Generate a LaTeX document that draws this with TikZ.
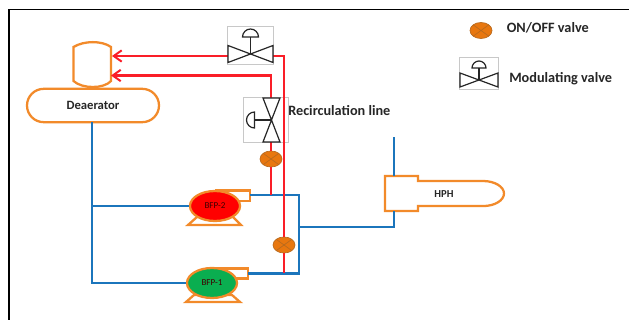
\documentclass[tikz,border=0pt]{standalone}
\usepackage{fontspec}
\setmainfont{Carlito}
\usetikzlibrary{arrows.meta,shapes.misc,shapes.geometric}
\definecolor{vesselor}{HTML}{F28A2A}
\definecolor{pipeblue}{HTML}{1B75BC}
\definecolor{piperedc}{HTML}{FA1E28}
\definecolor{valveor}{HTML}{E8770F}
\definecolor{valveline}{HTML}{B86A1E}
\definecolor{boxgray}{HTML}{C8C8C8}
\definecolor{inkc}{HTML}{262626}
\definecolor{pumpgreen}{HTML}{0AAE50}
\tikzset{
  x=0.75pt,y=-0.75pt,
  vessel/.style={draw=vesselor,line width=1.7pt,fill=white},
  bluepipe/.style={draw=pipeblue,line width=2pt,line join=miter},
  redpipe/.style={draw=piperedc,line width=1.9pt},
  redarrow/.style={redpipe,-{Straight Barb[length=6pt,width=8.5pt,line width=1.5pt]}},
  onoff/.style={ellipse,draw=valveline,fill=valveor,line width=0.5pt,inner sep=0pt,minimum width=16.5pt,minimum height=12pt,path picture={
    \draw[valveline,line width=0.5pt] (path picture bounding box.north west)--(path picture bounding box.south east)
      (path picture bounding box.south west)--(path picture bounding box.north east);}},
  vbox/.style={draw=boxgray,line width=0.4pt,fill=white,inner sep=0pt},
  pumpbody/.style={ellipse,draw=vesselor,line width=1.7pt,inner sep=0pt,minimum width=37.5pt,minimum height=22.5pt,font=\fontsize{6.8}{7}\selectfont,text=black!75!red},
  txtlabel/.style={font=\fontsize{10.7}{12}\selectfont\bfseries,text=inkc,inner sep=0pt},
  symb/.style={draw=inkc,line width=0.9pt,fill=white},
}
\newcommand{\modvalve}[5]{%
  \begin{scope}[shift={(#1,#2)},rotate=#5]
    \draw[symb] (0,0)--(-#3,-#4)--(-#3,#4)--cycle;
    \draw[symb] (0,0)--(#3,-#4)--(#3,#4)--cycle;
    \draw[symb,fill=none] (0,0)--(0,-17);
    \draw[symb] (-8,-17) arc[start angle=180,end angle=0,radius=6pt] -- cycle;
  \end{scope}}
\begin{document}
\begin{tikzpicture}
\useasboundingbox (0,0) rectangle (629,320);
\fill[white] (0,0) rectangle (629,320);
% frame
\draw[black,line width=1.1pt] (9,320)--(9,9.5)--(629,9.5);

% vessels
\draw[vessel] (73.5,47) .. controls (84,40.5) and (102,40.5) .. (111,47) -- (111,81) .. controls (104,89) and (82,89) .. (73.5,81) -- cycle;
\node[inner sep=0pt,minimum width=28pt,minimum height=33pt] (drum) at (92.5,65) {};
\node[vessel,rounded rectangle,minimum width=99pt,minimum height=25pt,inner sep=0pt,text=inkc,font=\fontsize{9.5}{10}\selectfont\bfseries] (dea) at (93,105.5) {Deaerator};
\draw[vessel,line join=miter] (385,176) -- (418,176) -- (418,181) -- (483,181) arc[start angle=90,end angle=-90,x radius=15.75pt,y radius=9.4pt] -- (418,206) -- (418,211) -- (385,211) -- cycle;
\node[inner sep=0pt,font=\fontsize{8}{9}\selectfont\bfseries,text=inkc] (hph) at (444,194) {HPH};

% pumps
\draw[vessel,line join=miter] (215,190.5) -- (250,190.5) -- (250,201) -- (236,201);
\draw[vessel,line join=miter] (188,225) -- (197,217) -- (233,217) -- (241,225) -- cycle;
\node[pumpbody,fill=red] (bfp2) at (215,206) {BFP-2};
\draw[vessel,line join=miter] (212,268.5) -- (248,268.5) -- (248,278.5) -- (233,278.5);
\draw[vessel,line join=miter] (186,302) -- (194,295) -- (232,295) -- (240,302) -- cycle;
\node[pumpbody,fill=pumpgreen] (bfp1) at (212,283) {BFP-1};

% junction coordinates
\coordinate (deaS) at (92,122);
\coordinate (j1) at (92,206);
\coordinate (j2) at (92,283);
\coordinate (o2) at (250,195);
\coordinate (o1) at (248,273.5);
\coordinate (c2) at (299,195);
\coordinate (c1) at (299,273.5);
\coordinate (cm) at (299,227);
\coordinate (hc) at (394,227);
\coordinate (hb) at (394,211);
\coordinate (ht) at (394,176);
\coordinate (he) at (394,137);

% blue pipes
\draw[bluepipe] (deaS) -- (j2) -- (bfp1.west);
\draw[bluepipe] (j1) -- (bfp2.west);
\draw[bluepipe] (o2) -- (c2) -- (c1) -- (o1);
\draw[bluepipe] (cm) -- (hc) -- (hb);
\draw[bluepipe] (ht) -- (he);

% modulating valve boxes
\node[vbox,minimum width=34.5pt,minimum height=28.5pt] (topv) at (250,45) {};
\node[vbox,minimum width=33.75pt,minimum height=33.75pt] (recv) at (265.5,119.5) {};
\node[vbox,minimum width=29pt,minimum height=24pt] (legv) at (478.5,73) {};

% coordinates of the red line
\coordinate (tvL) at (228,56);
\coordinate (tvR) at (273,56);
\coordinate (rc1) at (284,56);
\coordinate (rc2) at (284,273.5);
\coordinate (rvT) at (271,98);
\coordinate (rvB) at (271,142);
\coordinate (r2a) at (271,75.5);
\coordinate (r2j) at (271,195);
\coordinate (tip1) at (112,56);
\coordinate (tip2) at (111,75.5);

% on/off valves
\node[onoff] (v1) at (271,159) {};
\node[onoff] (v2) at (284,245) {};
\node[onoff] (legoff) at (481,30.5) {};

% red pipes
\draw[redarrow] (tvL) -- (tip1);
\draw[redpipe] (tvR) -- (rc1) -- (v2.north);
\draw[redpipe] (v2.south) -- (rc2);
\draw[redarrow] (rvT) -- (r2a) -- (tip2);
\draw[redpipe] (rvB) -- (v1.north);
\draw[redpipe] (v1.south) -- (r2j);

% valve symbols
\modvalve{250.5}{54}{22.5}{8.5}{0}
\modvalve{271.5}{120}{22}{8.5}{90}
\begin{scope}[shift={(479,80)}]
  \draw[symb] (0,0)--(-19,-7)--(-19,7)--cycle;
  \draw[symb] (0,0)--(19,-7)--(19,7)--cycle;
  \draw[symb,fill=none] (0,0)--(0,-12);
  \draw[symb] (-7,-12) arc[start angle=180,end angle=0,radius=5.25pt] -- cycle;
\end{scope}

% labels
\node[txtlabel,anchor=west] (lon) at (506.5,27.5) {ON/OFF valve};
\node[txtlabel,anchor=west] (lmod) at (509,79) {Modulating valve};
\node[txtlabel,anchor=west] (lrec) at (288,111) {Recirculation line};
\end{tikzpicture}
\end{document}
